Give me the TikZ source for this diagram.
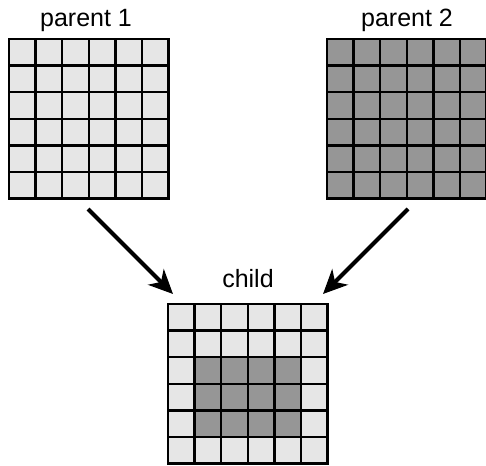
\documentclass[tikz,border=0pt]{standalone}
\usepackage{fontspec}
\setmainfont{Liberation Sans}
\usetikzlibrary{arrows.meta,calc}
\definecolor{lightcell}{HTML}{E6E6E6}
\definecolor{darkcell}{HTML}{969696}
\tikzset{
  gridline/.style={draw=black, line width=2.4pt},
  gridbox/.style={draw=none, inner sep=0pt, minimum size=160pt, anchor=north west},
  lbl/.style={font=\fontsize{25}{29}\selectfont, anchor=base, inner sep=0pt},
  bigarrow/.style={line width=4.2pt, -{Stealth[length=24pt, width=22pt, inset=7pt]}}
}
\begin{document}
\begin{tikzpicture}[x=1pt, y=-1pt]
\useasboundingbox (0,0) rectangle (486,465);
\def\cs{26.6}
% parent 1
\node[gridbox] (p1) at (9,39) {};
\foreach \i in {0,...,5}{\foreach \j in {0,...,5}{
  \filldraw[fill=lightcell, gridline] ($(p1.north west)+(\i*\cs,\j*\cs)$) rectangle ++(\cs,\cs);
}}
% parent 2
\node[gridbox] (p2) at (327,39) {};
\foreach \i in {0,...,5}{\foreach \j in {0,...,5}{
  \filldraw[fill=darkcell, gridline] ($(p2.north west)+(\i*\cs,\j*\cs)$) rectangle ++(\cs,\cs);
}}
% child
\node[gridbox] (c) at (168,304) {};
\foreach \i in {0,...,5}{\foreach \j in {0,...,5}{
  \pgfmathtruncatemacro{\inner}{(\i>0)&&(\i<5)&&(\j>1)&&(\j<5)}
  \ifnum\inner=1
    \filldraw[fill=darkcell, gridline] ($(c.north west)+(\i*\cs,\j*\cs)$) rectangle ++(\cs,\cs);
  \else
    \filldraw[fill=lightcell, gridline] ($(c.north west)+(\i*\cs,\j*\cs)$) rectangle ++(\cs,\cs);
  \fi
}}
% labels
\node[lbl] (l1) at (86,27) {parent 1};
\node[lbl] (l2) at (407,27) {parent 2};
\node[lbl] (lc) at (248,287) {child};
% arrows
\coordinate (a1s) at (88,209);
\coordinate (a1e) at (173,294);
\coordinate (a2s) at (408,209);
\coordinate (a2e) at (323,294);
\draw[bigarrow] (a1s) -- (a1e);
\draw[bigarrow] (a2s) -- (a2e);
\end{tikzpicture}
\end{document}
